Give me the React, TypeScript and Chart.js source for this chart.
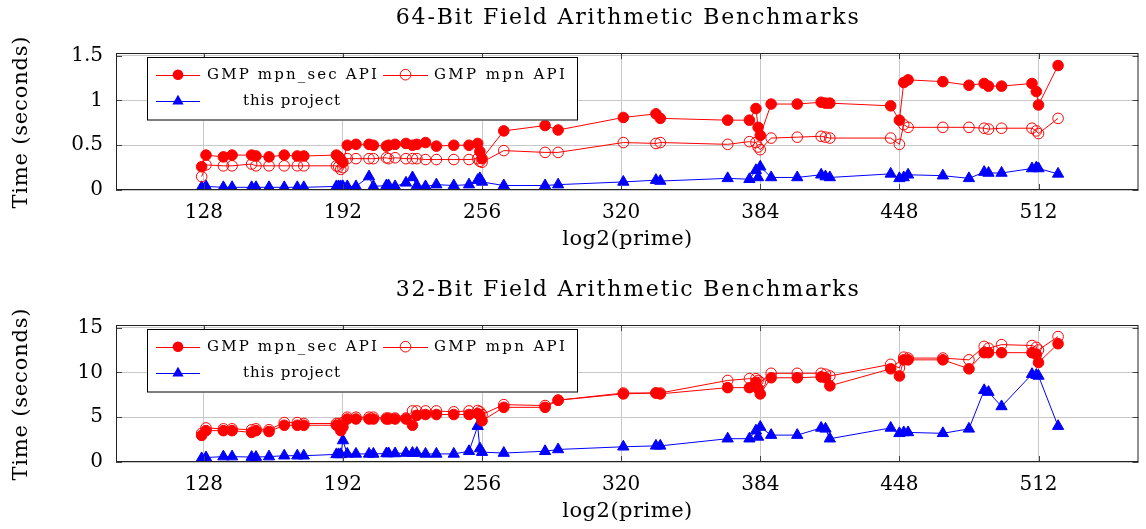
import React, { useEffect, useRef } from 'react';
import { Chart, registerables } from 'chart.js';

Chart.register(...registerables);

// ---------- data ----------
const primeBits = [127, 129, 137, 141, 150, 152, 158, 165, 171, 174, 189, 190, 191, 192, 194, 198, 204, 206, 212, 213, 216, 221, 224, 226, 230, 235, 243, 250, 254, 255, 256, 266, 285, 291, 321, 336, 338, 369, 379, 382, 383, 384, 389, 401, 412, 414, 416, 444, 448, 450, 452, 468, 480, 487, 489, 495, 509, 511, 512, 521];

const sec64 = [0.26, 0.39, 0.37, 0.39, 0.39, 0.38, 0.37, 0.39, 0.38, 0.38, 0.39, 0.37, 0.34, 0.31, 0.50, 0.51, 0.51, 0.50, 0.49, 0.50, 0.51, 0.52, 0.50, 0.51, 0.53, 0.49, 0.50, 0.50, 0.52, 0.43, 0.35, 0.66, 0.72, 0.67, 0.81, 0.85, 0.80, 0.78, 0.78, 0.91, 0.70, 0.61, 0.96, 0.96, 0.98, 0.97, 0.97, 0.94, 0.78, 1.20, 1.23, 1.21, 1.17, 1.19, 1.16, 1.16, 1.19, 1.10, 0.95, 1.39];
const mpn64 = [0.15, 0.28, 0.27, 0.27, 0.29, 0.27, 0.27, 0.27, 0.27, 0.27, 0.27, 0.26, 0.23, 0.25, 0.35, 0.35, 0.35, 0.35, 0.36, 0.35, 0.36, 0.35, 0.35, 0.35, 0.34, 0.34, 0.34, 0.34, 0.35, 0.32, 0.31, 0.44, 0.42, 0.42, 0.53, 0.52, 0.53, 0.51, 0.54, 0.53, 0.48, 0.45, 0.58, 0.59, 0.60, 0.59, 0.58, 0.58, 0.51, 0.73, 0.70, 0.70, 0.70, 0.69, 0.68, 0.69, 0.69, 0.66, 0.63, 0.80];
const proj64 = [0.03, 0.04, 0.03, 0.03, 0.03, 0.03, 0.03, 0.03, 0.03, 0.03, 0.04, 0.04, 0.04, 0.04, 0.04, 0.04, 0.15, 0.04, 0.05, 0.05, 0.04, 0.08, 0.14, 0.05, 0.04, 0.06, 0.05, 0.06, 0.11, 0.13, 0.09, 0.05, 0.05, 0.06, 0.09, 0.11, 0.10, 0.13, 0.12, 0.22, 0.14, 0.26, 0.14, 0.14, 0.17, 0.15, 0.14, 0.18, 0.13, 0.14, 0.17, 0.16, 0.13, 0.20, 0.19, 0.19, 0.24, 0.25, 0.24, 0.18];

const sec32 = [2.97, 3.5, 3.5, 3.5, 3.3, 3.5, 3.4, 4.1, 4.1, 4.1, 4.1, 4.1, 3.5, 3.9, 4.8, 4.8, 4.8, 4.8, 4.8, 4.8, 4.8, 4.8, 4.1, 5.2, 5.3, 5.3, 5.3, 5.3, 5.4, 5.2, 4.6, 6.1, 6.1, 6.9, 7.6, 7.7, 7.6, 8.3, 8.3, 8.9, 8.2, 7.6, 9.4, 9.4, 9.5, 9.4, 8.5, 10.4, 9.6, 11.4, 11.4, 11.4, 10.4, 12.2, 12.2, 12.2, 12.2, 12.0, 11.1, 13.2];
const mpn32 = [3.2, 3.8, 3.7, 3.7, 3.6, 3.7, 3.6, 4.4, 4.4, 4.3, 4.3, 4.3, 4.1, 4.4, 5.0, 5.0, 5.0, 5.0, 4.9, 4.9, 4.9, 4.9, 5.7, 5.7, 5.7, 5.7, 5.6, 5.7, 5.75, 5.6, 5.3, 6.4, 6.3, 6.9, 7.7, 7.7, 7.7, 9.1, 9.3, 9.3, 9.1, 8.9, 9.9, 9.9, 9.9, 9.8, 9.6, 10.9, 10.5, 11.7, 11.6, 11.6, 11.4, 12.9, 12.7, 13.1, 13.0, 12.8, 12.5, 14.0];
const proj32 = [0.4, 0.5, 0.6, 0.6, 0.55, 0.55, 0.6, 0.7, 0.7, 0.7, 0.85, 0.85, 0.85, 2.4, 0.9, 0.9, 0.9, 0.9, 0.95, 0.95, 0.95, 1.0, 1.0, 1.0, 0.9, 0.9, 0.9, 1.2, 4.0, 1.5, 1.1, 1.0, 1.2, 1.4, 1.7, 1.8, 1.8, 2.6, 2.6, 3.5, 2.8, 3.9, 3.0, 3.0, 3.8, 3.7, 2.6, 3.8, 3.2, 3.3, 3.3, 3.2, 3.7, 8.0, 7.8, 6.2, 9.8, 9.7, 9.6, 4.0];

const xTicks = [128, 192, 256, 320, 384, 448, 512];
const yTicks64 = [0, 0.5, 1, 1.5];
const yTicks32 = [0, 5, 10, 15];
const seriesLabels = ['GMP mpn_sec API', 'GMP mpn API', 'this project'];
const chartTitles = ['64-Bit Field Arithmetic Benchmarks', '32-Bit Field Arithmetic Benchmarks'];
const xAxisTitle = 'log2(prime)';
const yAxisTitle = 'Time (seconds)';

// ---------- styles ----------
const FONT = "'DejaVu Serif'";
const RED = '#ff0000';
const BLUE = '#0000ff';

function fitText(ctx: CanvasRenderingContext2D, text: string, x: number, y: number, width: number, size: number) {
  ctx.font = `${size}px ${FONT}`;
  (ctx as any).letterSpacing = '0px';
  const w = ctx.measureText(text).width;
  const ls = (width - w) / Math.max(1, text.length - 1);
  (ctx as any).letterSpacing = `${ls}px`;
  ctx.textAlign = 'left';
  ctx.textBaseline = 'middle';
  ctx.fillText(text, x, y);
  (ctx as any).letterSpacing = '0px';
}

function drawMarker(ctx: CanvasRenderingContext2D, kind: string, x: number, y: number, color: string) {
  ctx.save();
  ctx.strokeStyle = color;
  ctx.fillStyle = color;
  ctx.lineWidth = 1;
  ctx.beginPath();
  if (kind === 'triangle') {
    const r = 6.5;
    ctx.moveTo(x, y - r);
    ctx.lineTo(x + r * 0.866, y + r * 0.5);
    ctx.lineTo(x - r * 0.866, y + r * 0.5);
    ctx.closePath();
    ctx.fill();
  } else {
    ctx.arc(x, y, 5.3, 0, Math.PI * 2);
    if (kind === 'filled') ctx.fill();
    else ctx.stroke();
  }
  ctx.restore();
}

function makeDecor(title: string, yTicks: number[]) {
  return {
    id: 'decor',
    afterDraw(chart: any) {
      const ctx: CanvasRenderingContext2D = chart.ctx;
      const a = chart.chartArea;
      const xs = chart.scales.x;
      const ys = chart.scales.y;
      ctx.save();
      // tick marks (inside, all four sides)
      ctx.strokeStyle = '#444';
      ctx.lineWidth = 1;
      ctx.beginPath();
      for (const v of xTicks) {
        const px = Math.round(xs.getPixelForValue(v)) + 0.5;
        ctx.moveTo(px, a.bottom); ctx.lineTo(px, a.bottom - 6);
        ctx.moveTo(px, a.top); ctx.lineTo(px, a.top + 6);
      }
      for (const v of yTicks) {
        const py = Math.round(ys.getPixelForValue(v)) + 0.5;
        ctx.moveTo(a.left, py); ctx.lineTo(a.left + 6, py);
        ctx.moveTo(a.right, py); ctx.lineTo(a.right - 6, py);
      }
      ctx.stroke();
      // frame
      ctx.strokeStyle = '#222';
      ctx.strokeRect(a.left + 0.5, a.top + 0.5, a.right - a.left - 1, a.bottom - a.top - 1);

      // legend
      const bl = 147, br = 578, bt = a.top + 4, bb = a.top + 67.5;
      ctx.fillStyle = '#fff';
      ctx.fillRect(bl, bt, br - bl, bb - bt);
      ctx.strokeStyle = '#000';
      ctx.strokeRect(bl + 0.5, bt + 0.5, br - bl - 1, bb - bt - 1);
      const r1 = a.top + 21.7, r2 = a.top + 48.3;
      const entries = [
        { x0: 156, x1: 200, y: r1, color: RED, kind: 'filled', text: seriesLabels[0], tx: 207, tw: 170 },
        { x0: 383, x1: 428, y: r1, color: RED, kind: 'open', text: seriesLabels[1], tx: 434, tw: 131 },
        { x0: 156, x1: 200, y: r2, color: BLUE, kind: 'triangle', text: seriesLabels[2], tx: 243, tw: 97 },
      ];
      for (const e of entries) {
        ctx.strokeStyle = e.color;
        ctx.lineWidth = 1;
        ctx.beginPath();
        ctx.moveTo(e.x0, Math.round(e.y) + 0.5);
        ctx.lineTo(e.x1, Math.round(e.y) + 0.5);
        ctx.stroke();
        drawMarker(ctx, e.kind, (e.x0 + e.x1) / 2, e.y, e.color);
        ctx.fillStyle = '#000';
        fitText(ctx, e.text, e.tx, e.y, e.tw, 15);
      }

      // titles
      ctx.fillStyle = '#000';
      const cx = (a.left + a.right) / 2;
      fitText(ctx, title, cx - 231.5, 18, 463, 22);
      fitText(ctx, xAxisTitle, cx - 65, 240, 130, 21);
      ctx.save();
      ctx.translate(22, (a.top + a.bottom) / 2 + 1);
      ctx.rotate(-Math.PI / 2);
      fitText(ctx, yAxisTitle, -86, 0, 172, 21);
      ctx.restore();
      ctx.restore();
    },
  };
}

function buildConfig(title: string, sec: number[], mpn: number[], proj: number[], yTicks: number[], yMax: number): any {
  const pts = (vals: number[]) => primeBits.map((x, i) => ({ x, y: vals[i] }));
  const common = { showLine: true, fill: false, tension: 0, borderWidth: 1, pointBorderWidth: 1, pointHoverRadius: 0 };
  return {
    type: 'line',
    data: {
      datasets: [
        { ...common, label: seriesLabels[0], data: pts(sec), borderColor: RED, backgroundColor: RED, pointBackgroundColor: RED, pointBorderColor: RED, pointStyle: 'circle', pointRadius: 5.3 },
        { ...common, label: seriesLabels[1], data: pts(mpn), borderColor: RED, backgroundColor: 'rgba(0,0,0,0)', pointBackgroundColor: 'rgba(0,0,0,0)', pointBorderColor: RED, pointStyle: 'circle', pointRadius: 5.3 },
        { ...common, label: seriesLabels[2], data: pts(proj), borderColor: BLUE, backgroundColor: BLUE, pointBackgroundColor: BLUE, pointBorderColor: BLUE, pointStyle: 'triangle', pointRadius: 6.5 },
      ],
    },
    options: {
      animation: false,
      responsive: false,
      maintainAspectRatio: false,
      events: [],
      layout: { padding: { top: 53, right: 3, left: 0, bottom: 0 } },
      plugins: { legend: { display: false }, title: { display: false }, tooltip: { enabled: false } },
      scales: {
        x: {
          type: 'linear',
          min: 87.6,
          max: 558,
          afterBuildTicks: (s: any) => { s.ticks = xTicks.map((v) => ({ value: v })); },
          afterFit: (s: any) => { s.height = 67; },
          grid: { color: '#c8c8c8', drawTicks: false, lineWidth: 1 },
          border: { display: false },
          ticks: { padding: 11, color: '#000', font: { family: FONT, size: 20 }, maxRotation: 0, autoSkip: false, callback: (v: any) => String(v) },
        },
        y: {
          type: 'linear',
          min: 0,
          max: yMax,
          afterBuildTicks: (s: any) => { s.ticks = yTicks.map((v) => ({ value: v })); },
          afterFit: (s: any) => { s.width = 116; },
          grid: { color: '#c8c8c8', drawTicks: false, lineWidth: 1 },
          border: { display: false },
          ticks: { padding: 13, color: '#000', font: { family: FONT, size: 20 }, autoSkip: false, callback: (v: any) => String(v) },
        },
      },
    },
    plugins: [makeDecor(title, yTicks)],
  };
}

export default function App() {
  const topRef = useRef<HTMLCanvasElement | null>(null);
  const botRef = useRef<HTMLCanvasElement | null>(null);

  useEffect(() => {
    const charts: Chart[] = [];
    if (topRef.current) charts.push(new Chart(topRef.current, buildConfig(chartTitles[0], sec64, mpn64, proj64, yTicks64, 1.53)));
    if (botRef.current) charts.push(new Chart(botRef.current, buildConfig(chartTitles[1], sec32, mpn32, proj32, yTicks32, 15.29)));
    return () => charts.forEach((c) => c.destroy());
  }, []);

  return (
    <div style={{ position: 'fixed', left: 0, top: 0, width: 1146, height: 529, background: '#fff' }}>
      <canvas ref={topRef} width={1146} height={257} style={{ position: 'absolute', left: 0, top: 0, width: 1146, height: 257 }} />
      <canvas ref={botRef} width={1146} height={257} style={{ position: 'absolute', left: 0, top: 272, width: 1146, height: 257 }} />
    </div>
  );
}
